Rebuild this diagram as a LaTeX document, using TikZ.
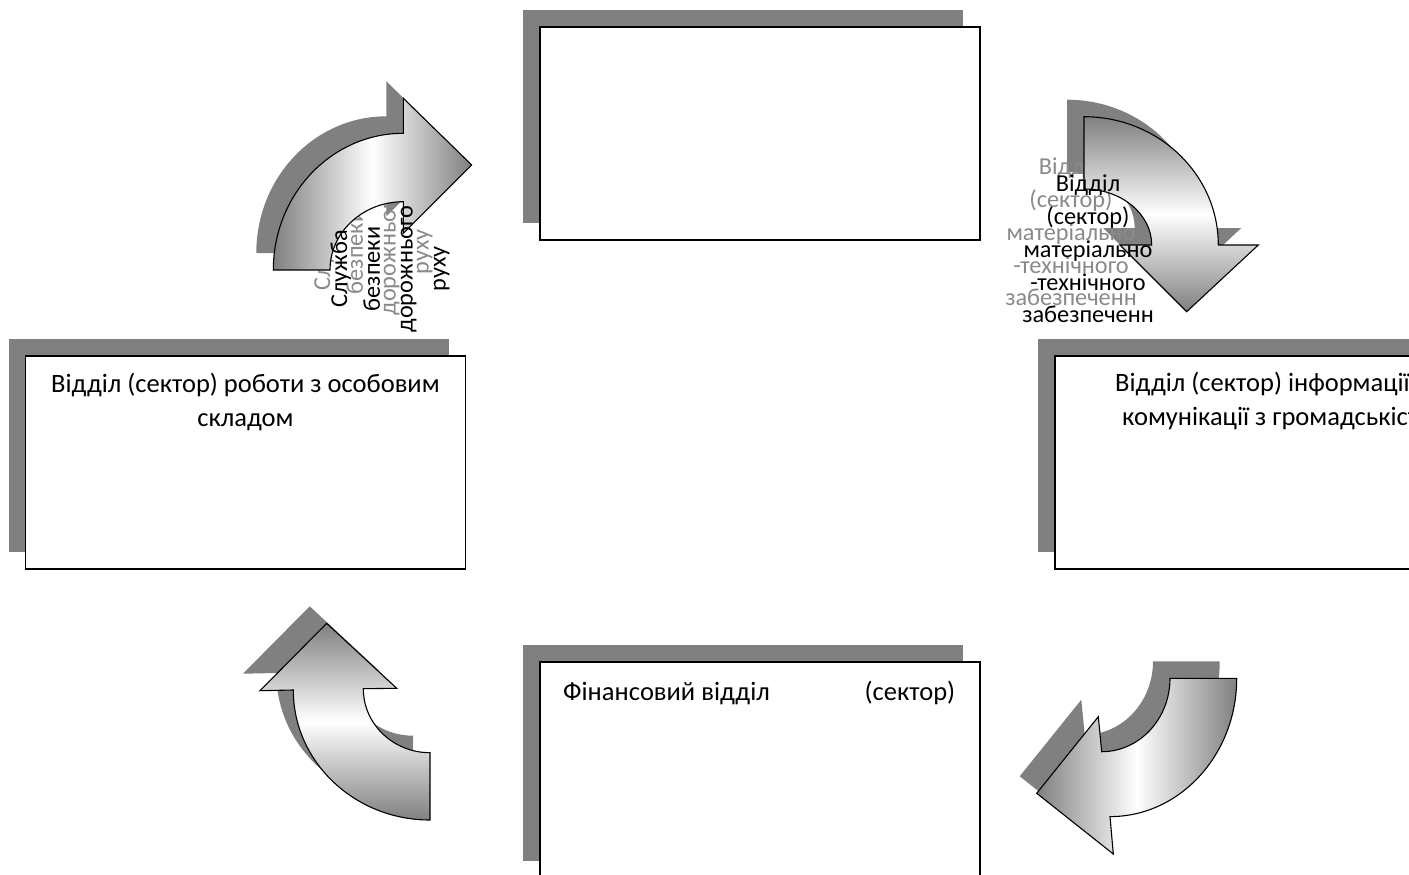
\documentclass[tikz,border=0pt]{standalone}
\usepackage{fontspec}
\setmainfont{Carlito}
\usetikzlibrary{shadows}
\definecolor{shadegray}{RGB}{128,128,128}
\definecolor{ghostgray}{RGB}{138,138,138}
\definecolor{edgegray}{RGB}{128,128,128}
\begin{document}
\begin{tikzpicture}[x=1pt,y=-1pt,
  box/.style={draw=black, line width=1.3pt, fill=white, minimum width=440pt,
    minimum height=213pt, inner sep=0pt, outer sep=0pt,
    general shadow={fill=shadegray, shadow xshift=-17pt, shadow yshift=17pt}},
  boxtext/.style={font=\fontsize{26.5}{34}\selectfont, align=center, inner sep=0pt},
  arrowtext/.style={font=\fontsize{24.3}{32.8}\selectfont, align=center, inner sep=0pt},
  ghost/.style={text=ghostgray},
  arrowshadow/.style={shift={(-17,-17)}, fill=shadegray},
  arrowbody/.style={draw=black, line width=1.1pt, line join=miter},
  hshade/.style={left color=edgegray, right color=edgegray, middle color=white},
  vshade/.style={top color=edgegray, bottom color=edgegray, middle color=white},
  % curved arrow outlines
  pathTL/.style={insert path={(273.3,270)
      arc[start angle=180, end angle=270, x radius=130, y radius=136.7]
      -- (403.3,98.3) -- (471.7,165) -- (403.3,233.3) -- (403.3,201.7)
      arc[start angle=270, end angle=180, x radius=73.3, y radius=68.3] -- cycle}},
  pathTR/.style={insert path={(1084,116.7)
      arc[start angle=270, end angle=360, x radius=134.3, y radius=128.3]
      -- (1258.3,245) -- (1186.7,311.7) -- (1120,245) -- (1151.7,245)
      arc[start angle=360, end angle=270, x radius=67.7, y radius=56] -- cycle}},
  pathBL/.style={insert path={(260,690.7) -- (326.7,623.3) -- (396.7,688.3) -- (363.3,688.7)
      arc[start angle=180, end angle=90, x radius=66.7, y radius=64]
      -- (430,820)
      arc[start angle=90, end angle=180, x radius=136.7, y radius=130] -- cycle}},
  pathBR/.style={insert path={(1236.7,678.3)
      arc[start angle=0, end angle=90, x radius=126.7, y radius=138.3]
      -- (1113.3,854) -- (1036.7,793.3) -- (1098.3,716.7) -- (1101.7,751.7)
      arc[start angle=90, end angle=0, x radius=68.3, y radius=73.4] -- cycle}},
]
\useasboundingbox (0,0) rectangle (1409,875);
\clip (0,0) rectangle (1409,875);

% department boxes
\node[box] (T) at (760,133.5) {};
\node[box] (L) at (245.5,462.5) {};
\node[box] (R) at (1275,462.5) {};
\node[box, minimum height=216pt] (B) at (760,770) {};

\node[boxtext, anchor=north] (Ltxt) at ([yshift=-17pt]L.north)
  {Відділ (сектор) роботи з особовим\\складом};
\node[boxtext, anchor=base west] (Rtxt1) at (1115,391.7) {Відділ (сектор) інформації};
\node[boxtext, anchor=base west] (Rtxt2) at (1122,425.7) {комунікації з громадськіст};
\node[boxtext, anchor=base west] (Btxt) at (563,700)
  {\makebox[392pt]{Фінансовий відділ\hfill(сектор)}};

% arrow shadows
\fill[arrowshadow, pathTL];
\fill[arrowshadow, pathTR];
\fill[arrowshadow, pathBL];
\fill[arrowshadow, pathBR];

% shadowed arrow captions
\node[arrowtext, ghost, rotate=90] (sdrShadow) at (373,252)
  {Служба\\безпеки\\дорожнього\\руху};
\node[arrowtext, ghost] (mtzShadow) at (1071,232)
  {Відділ\\(сектор)\\матеріально\\-технічного\\забезпеченн};

% arrows
\path[arrowbody, hshade, pathTL];
\path[arrowbody, vshade, pathTR];
\path[arrowbody, vshade, pathBL];
\path[arrowbody, hshade, pathBR];

% arrow captions
\node[arrowtext, rotate=90] (sdr) at (390,269)
  {Служба\\безпеки\\дорожнього\\руху};
\node[arrowtext] (mtz) at (1088,249)
  {Відділ\\(сектор)\\матеріально\\-технічного\\забезпеченн};
\end{tikzpicture}
\end{document}
